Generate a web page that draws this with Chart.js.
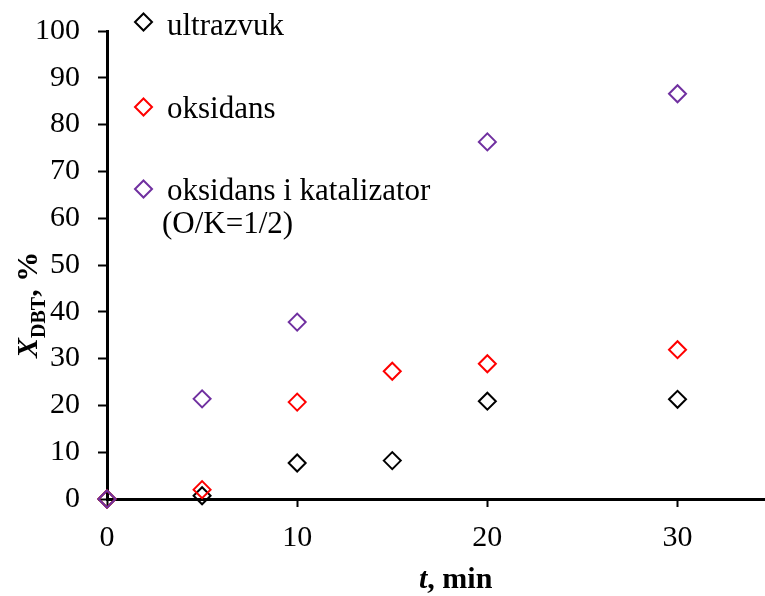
<!DOCTYPE html>
<html><head><meta charset="utf-8">
<script src="https://cdn.jsdelivr.net/npm/chart.js@4"></script>
<style>html,body{margin:0;padding:0;background:#fff;overflow:hidden}</style>
</head><body>
<canvas id="c" width="765" height="596"></canvas>
<script>
// ---- data ----
const timeMin = [0, 5, 10, 15, 20, 30];
const ultrazvuk = [0, 0.7, 7.7, 8.2, 20.9, 21.3];
const oksidans = [0, 2.0, 20.7, 27.3, 28.9, 31.9];
const timeKat = [0, 5, 10, 20, 30];
const oksidansKat = [0, 21.4, 37.8, 76.3, 86.6];
const seriesNames = ['ultrazvuk', 'oksidans', 'oksidans i katalizator', '(O/K=1/2)'];
const xTicks = [0, 10, 20, 30];
const yTicks = [0, 10, 20, 30, 40, 50, 60, 70, 80, 90, 100];
const xMax = 34.6;

const colors = ['#000000', '#FF0000', '#7030A0'];
const FONT = "'Liberation Serif', 'Times New Roman', serif";

function pts(xs, ys) { return xs.map((x, i) => ({ x: x, y: ys[i] })); }

function diamond(ctx, x, y, r, color) {
  ctx.save();
  ctx.strokeStyle = color;
  ctx.lineWidth = 2;
  ctx.beginPath();
  ctx.moveTo(x, y - r); ctx.lineTo(x + r, y); ctx.lineTo(x, y + r); ctx.lineTo(x - r, y);
  ctx.closePath();
  ctx.stroke();
  ctx.restore();
}

const decor = {
  id: 'decor',
  afterDraw(chart) {
    const ctx = chart.ctx;
    ctx.save();
    ctx.fillStyle = '#000';
    ctx.textBaseline = 'alphabetic';
    ctx.textAlign = 'left';
    // legend
    const lx = 143.5;
    diamond(ctx, lx, 22, 8.5, colors[0]);
    diamond(ctx, lx, 107, 8.5, colors[1]);
    diamond(ctx, lx, 189, 8.5, colors[2]);
    ctx.font = '31px ' + FONT;
    ctx.fillText(seriesNames[0], 167, 35);
    ctx.fillText(seriesNames[1], 167, 118);
    ctx.fillText(seriesNames[2], 167, 200);
    ctx.fillText(seriesNames[3], 162, 233);
    // x title
    ctx.font = 'italic bold 30px ' + FONT;
    ctx.fillText('t', 419, 588);
    let w = ctx.measureText('t').width;
    ctx.font = 'bold 30px ' + FONT;
    ctx.fillText(', min', 419 + w, 588);
    // y title
    ctx.translate(37, 358);
    ctx.rotate(-Math.PI / 2);
    ctx.font = 'italic bold 30px ' + FONT;
    ctx.fillText('X', 0, 0);
    let wx = ctx.measureText('X').width;
    ctx.font = 'bold 20px ' + FONT;
    ctx.fillText('DBT', wx, 8);
    let wd = ctx.measureText('DBT').width;
    ctx.font = 'bold 30px ' + FONT;
    ctx.fillText(', %', wx + wd, 0);
    ctx.restore();
  }
};

const ds = (label, data, color, order) => ({
  label, data, order,
  showLine: false,
  clip: false,
  pointStyle: 'rectRot',
  pointRadius: 8.5,
  pointHoverRadius: 8.5,
  pointBorderWidth: 2,
  borderColor: color,
  pointBorderColor: color,
  backgroundColor: 'rgba(0,0,0,0)',
  pointBackgroundColor: 'rgba(0,0,0,0)'
});

new Chart(document.getElementById('c'), {
  type: 'scatter',
  data: {
    datasets: [
      ds(seriesNames[0], pts(timeMin, ultrazvuk), colors[0], 2),
      ds(seriesNames[1], pts(timeMin, oksidans), colors[1], 1),
      ds(seriesNames[2] + ' ' + seriesNames[3], pts(timeKat, oksidansKat), colors[2], 0)
    ]
  },
  options: {
    responsive: false,
    animation: false,
    layout: { autoPadding: false, padding: { top: 31, left: 0, right: 0, bottom: 0 } },
    plugins: { legend: { display: false }, tooltip: { enabled: false } },
    scales: {
      x: {
        type: 'linear', min: 0, max: xMax,
        afterFit(s) { s.height = 97; s.paddingLeft = 0; s.paddingRight = 0; },
        afterBuildTicks(s) { s.ticks = xTicks.map(v => ({ value: v })); },
        border: { display: true, color: '#000', width: 3 },
        grid: { display: true, drawOnChartArea: false, drawTicks: true, tickLength: 8, tickColor: '#000', tickWidth: 2 },
        ticks: { color: '#000', font: { family: FONT, size: 30 }, padding: 13, maxRotation: 0 }
      },
      y: {
        type: 'linear', min: 0, max: 100,
        afterFit(s) { s.width = 107; s.paddingTop = 0; s.paddingBottom = 0; },
        afterBuildTicks(s) { s.ticks = yTicks.map(v => ({ value: v })); },
        border: { display: true, color: '#000', width: 3 },
        grid: { display: true, drawOnChartArea: false, drawTicks: true, tickLength: 9, tickColor: '#000', tickWidth: 2 },
        ticks: { color: '#000', font: { family: FONT, size: 30 }, padding: 18 }
      }
    }
  },
  plugins: [decor]
});
</script>
</body></html>
